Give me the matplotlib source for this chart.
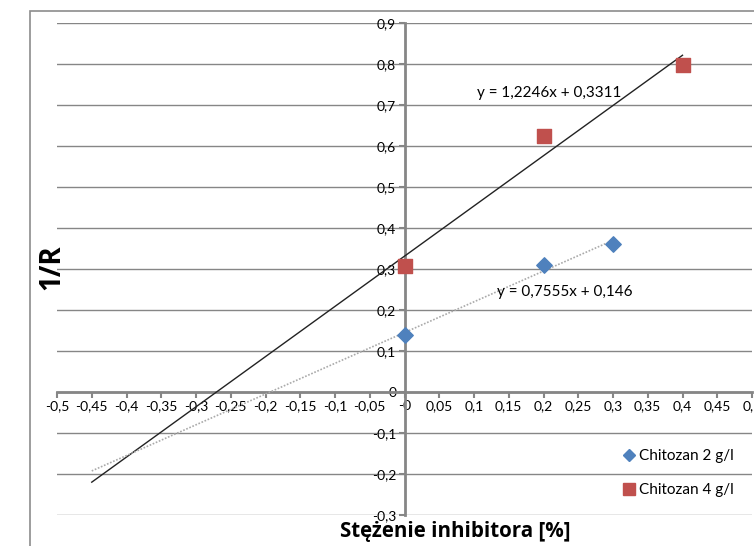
import matplotlib.pyplot as plt
import matplotlib.patches as mpatches
from matplotlib.lines import Line2D
import numpy as np

plt.rcParams['font.family'] = ['Lato', 'DejaVu Sans']

# data
x_2g = [0, 0.2, 0.3]
y_2g = [0.14, 0.31, 0.36]
x_4g = [0, 0.2, 0.4]
y_4g = [0.307, 0.625, 0.797]

label_2g = 'Chitozan 2 g/l'
label_4g = 'Chitozan 4 g/l'
eq_2g = 'y = 0,7555x + 0,146'
eq_4g = 'y = 1,2246x + 0,3311'

x_ticks = np.round(np.arange(-0.5, 0.51, 0.05), 2)
y_ticks = np.round(np.arange(-0.3, 0.91, 0.1), 1)

grid_c = '#868686'
blue = '#4F81BD'
red = '#C0504D'

fig = plt.figure(figsize=(7.54, 5.46), dpi=100)
W, H = 754, 546
ax = fig.add_axes([57 / W, 1 - 515 / H, (752 - 57) / W, (515 - 23) / H])
ax.set_xlim(-0.5, 0.5)
ax.set_ylim(-0.3, 0.9)

# outer chart border
fig.patches.append(mpatches.Rectangle((30 / W, -0.1), 1.2, 1 - 11 / H + 0.1,
                                      transform=fig.transFigure, fill=False,
                                      edgecolor='#8c8c8c', linewidth=1.2))

for sp in ['top', 'right']:
    ax.spines[sp].set_visible(False)
ax.spines['left'].set_position(('data', 0))
ax.spines['bottom'].set_position(('data', 0))
ax.spines['left'].set_color(grid_c)
ax.spines['left'].set_linewidth(2)
ax.spines['bottom'].set_color(grid_c)
ax.spines['bottom'].set_linewidth(2)

ax.set_xticks(x_ticks)
ax.set_xticklabels([('%g' % v).replace('.', ',') for v in x_ticks])
ax.set_yticks(y_ticks)
ax.set_yticklabels([('%g' % v).replace('.', ',') for v in y_ticks])
ax.tick_params(axis='both', direction='out', length=4, width=1.5, color=grid_c,
               labelsize=10, pad=2)
ax.yaxis.grid(True, color=grid_c, linewidth=1)
ax.set_axisbelow(True)

# trendlines, extended backward by 0.45
p2 = np.polyfit(x_2g, y_2g, 1)
p4 = np.polyfit(x_4g, y_4g, 1)
xt2 = np.array([-0.45, max(x_2g)])
xt4 = np.array([-0.45, max(x_4g)])
ax.plot(xt4, np.polyval(p4, xt4), color='#222222', linewidth=1, zorder=3)
ax.plot(xt2, np.polyval(p2, xt2), color='#aaaaaa', linewidth=1.2,
        linestyle=(0, (1, 1)), zorder=3)

ax.scatter(x_2g, y_2g, marker='D', s=62, color=blue, zorder=4, clip_on=False)
ax.scatter(x_4g, y_4g, marker='s', s=110, color=red, zorder=4, clip_on=False)

ax.text(0.104, 0.73, eq_4g, fontsize=11, ha='left', va='center')
ax.text(0.133, 0.245, eq_2g, fontsize=11, ha='left', va='center')

fig.text(52 / W, 1 - 267 / H, '1/R', rotation=90, fontsize=20,
         fontweight='bold', family=['Open Sans', 'DejaVu Sans'],
         ha='center', va='center')
fig.text(455 / W, 1 - 531 / H, 'Stężenie inhibitora [%]', fontsize=14.8,
         fontweight='bold', family=['Open Sans', 'DejaVu Sans'],
         ha='center', va='center')

handles = [Line2D([], [], marker='D', linestyle='none', color=blue, markersize=6),
           Line2D([], [], marker='s', linestyle='none', color=red, markersize=8)]
fig.legend(handles, [label_2g, label_4g], loc='center left',
           bbox_to_anchor=(606 / W, 1 - 473 / H), frameon=False, fontsize=11,
           handletextpad=0.05, labelspacing=1.3, handlelength=1.2)

fig.savefig('out.png', dpi=100)
